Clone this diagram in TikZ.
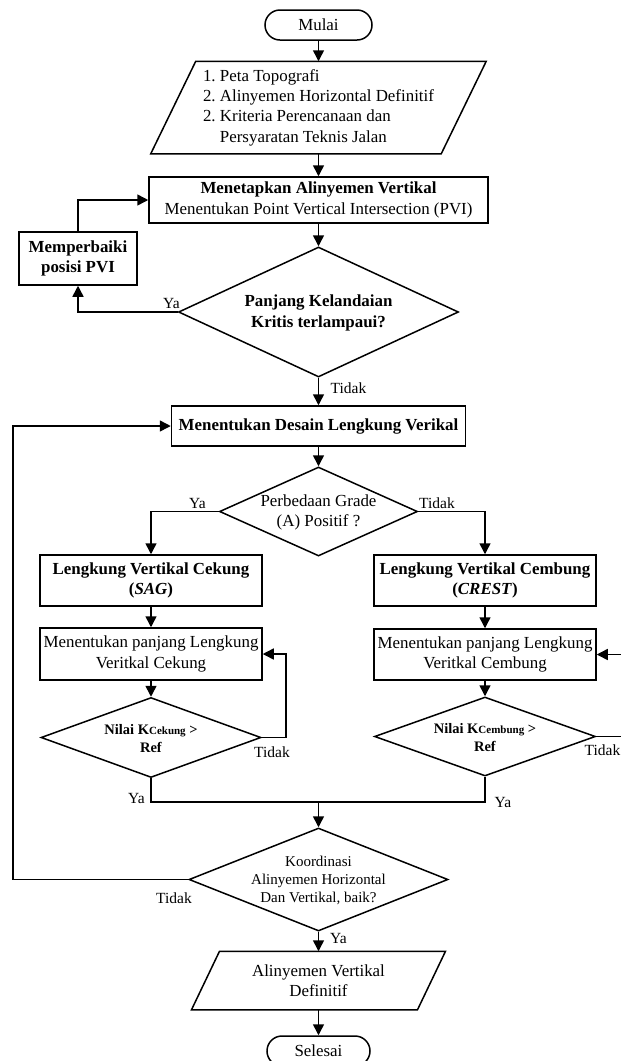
\documentclass[tikz,border=0pt]{standalone}
\usepackage{fontspec}
\setmainfont{Liberation Serif}
\usetikzlibrary{shapes.geometric, arrows.meta}

\begin{document}
\begin{tikzpicture}[x=1pt, y=-1pt, line width=1.5pt,
  box/.style = {draw, rectangle, align=center, inner sep=0pt, font=\fontsize{16.9}{20.3}\selectfont},
  ujung/.style = {draw, rectangle, rounded corners=15pt, minimum height=30pt, inner sep=0pt, font=\fontsize{16.9}{20.3}\selectfont},
  masukan/.style = {rectangle, align=center, inner sep=0pt, font=\fontsize{16.9}{20.3}\selectfont},
  tanya/.style = {draw, diamond, inner sep=0pt},
  isi/.style = {align=center, inner sep=0pt, font=\fontsize{16.9}{20.3}\selectfont},
  kecil/.style = {align=center, inner sep=0pt, font=\fontsize{14.5}{18}\selectfont},
  lbl/.style = {inner sep=0pt, font=\fontsize{15.5}{18}\selectfont},
  panah/.style = {-{Triangle[length=11pt, width=11pt]}}]

\useasboundingbox (0,0) rectangle (621,1061);

%% start and input
\node[ujung, minimum width=107pt] (mulai) at (318.5,25) {Mulai};
\node[masukan, minimum width=289pt, minimum height=91pt] (data) at (318.5,107.5)
  {\begin{tabular}{@{}l@{\ }l@{}}
   1. & Peta Topografi\\
   2. & Alinyemen Horizontal Definitif\\
   2. & Kriteria Perencanaan dan\\
      & Persyaratan Teknis Jalan
   \end{tabular}};

%% alinyemen vertikal
\node[box, minimum width=339pt, minimum height=46pt] (tetap) at (318.5,200)
  {\textbf{Menetapkan Alinyemen Vertikal}\\Menentukan Point Vertical Intersection (PVI)};
\node[box, minimum width=118pt, minimum height=53pt] (baiki) at (78,258.5)
  {\textbf{Memperbaiki}\\\textbf{posisi PVI}};
\node[tanya, minimum width=280pt, minimum height=130pt] (kritis) at (318.5,312) {};
\node[isi] (kritis-t) at (318.5,313) {\textbf{Panjang Kelandaian}\\\textbf{Kritis terlampaui?}};

%% lengkung vertikal
\node[box, minimum width=294pt, minimum height=40pt] (desain) at (318.5,426)
  {\textbf{Menentukan Desain Lengkung Verikal}};
\node[tanya, minimum width=198pt, minimum height=89pt] (grade) at (318.5,511.5) {};
\node[isi] (grade-t) at (318.5,512.5) {Perbedaan Grade\\(A) Positif ?};

\node[box, minimum width=222pt, minimum height=51pt] (sag) at (151,580.5)
  {\textbf{Lengkung Vertikal Cekung}\\\textbf{(\textit{SAG})}};
\node[box, minimum width=222pt, minimum height=51pt] (crest) at (485,580.5)
  {\textbf{Lengkung Vertikal Cembung}\\\textbf{(\textit{CREST})}};
\node[box, minimum width=222pt, minimum height=52pt] (pjsag) at (151,654)
  {Menentukan panjang Lengkung\\Veritkal Cekung};
\node[box, minimum width=222pt, minimum height=51pt] (pjcrest) at (485,654.5)
  {Menentukan panjang Lengkung\\Veritkal Cembung};

\node[tanya, minimum width=220pt, minimum height=80pt] (ksag) at (151,737.5) {};
\node[kecil] (ksag-t) at (151,739)
  {\textbf{Nilai K}{\fontsize{11}{11}\selectfont\bfseries Cekung} \textbf{>}\\\textbf{Ref}};
\node[tanya, minimum width=221pt, minimum height=79pt] (kcrest) at (485,736.5) {};
\node[kecil] (kcrest-t) at (485,738)
  {\textbf{Nilai K}{\fontsize{11}{11}\selectfont\bfseries Cembung} \textbf{>}\\\textbf{Ref}};

%% koordinasi and end
\node[tanya, minimum width=259pt, minimum height=103pt] (koord) at (318.5,879.5) {};
\node[isi, font=\fontsize{15}{18}\selectfont] (koord-t) at (318.5,880)
  {Koordinasi\\Alinyemen Horizontal\\Dan Vertikal, baik?};
\node[masukan, minimum width=224.5pt, minimum height=57pt] (hasil) at (318.5,980.5)
  {Alinyemen Vertikal\\Definitif};
\node[ujung, minimum width=103pt] (selesai) at (318.5,1051) {Selesai};

%% parallelogram outlines
\foreach \n/\s in {data/22.5, hasil/14}
  \draw ([xshift=\s pt]\n.north west) -- ([xshift=\s pt]\n.north east)
     -- ([xshift=-\s pt]\n.south east) -- ([xshift=-\s pt]\n.south west) -- cycle;

%% branch labels
\node[lbl] (ya1) at (171.5,303) {Ya};
\node[lbl] (tidak1) at (348.5,388) {Tidak};
\node[lbl] (ya2) at (197.5,503) {Ya};
\node[lbl] (tidak2) at (437,503) {Tidak};
\node[lbl] (tidak3) at (272,752) {Tidak};
\node[lbl] (tidak4) at (602.5,750) {Tidak};
\node[lbl] (ya3) at (136.5,798) {Ya};
\node[lbl] (ya4) at (503,802) {Ya};
\node[lbl] (tidak5) at (174,898) {Tidak};
\node[lbl] (ya5) at (338.5,938) {Ya};

\coordinate (gabung) at (318.5,802);
\coordinate (kiri) at (13,0);

%% connectors
\draw[panah] (mulai.south) -- (data.north);
\draw[panah] (data.south) -- (tetap.north);
\draw[panah] (tetap.south) -- (kritis.north);
\draw[panah] (kritis.west) -| (baiki.south);
\draw[panah] (baiki.north) |- (tetap.west);
\draw[panah] (kritis.south) -- (desain.north);
\draw[panah] (desain.south) -- (grade.north);
\draw[panah] (grade.west) -| (sag.north);
\draw[panah] (grade.east) -| (crest.north);
\draw[panah] (sag.south) -- (pjsag.north);
\draw[panah] (crest.south) -- (pjcrest.north);
\draw[panah] (pjsag.south) -- (ksag.north);
\draw[panah] (pjcrest.south) -- (kcrest.north);
\draw[panah] (ksag.east) -- ++(24,0) |- (pjsag.east);
\draw[panah] (kcrest.east) -- ++(25,0) |- (pjcrest.east);
\draw (ksag.south) |- (gabung) -| (kcrest.south);
\draw[panah] (gabung) -- (koord.north);
\draw[panah] (koord.west) -- (kiri |- koord.west) |- (desain.west);
\draw[panah] (koord.south) -- (hasil.north);
\draw[panah] (hasil.south) -- (selesai.north);

\end{tikzpicture}
\end{document}
